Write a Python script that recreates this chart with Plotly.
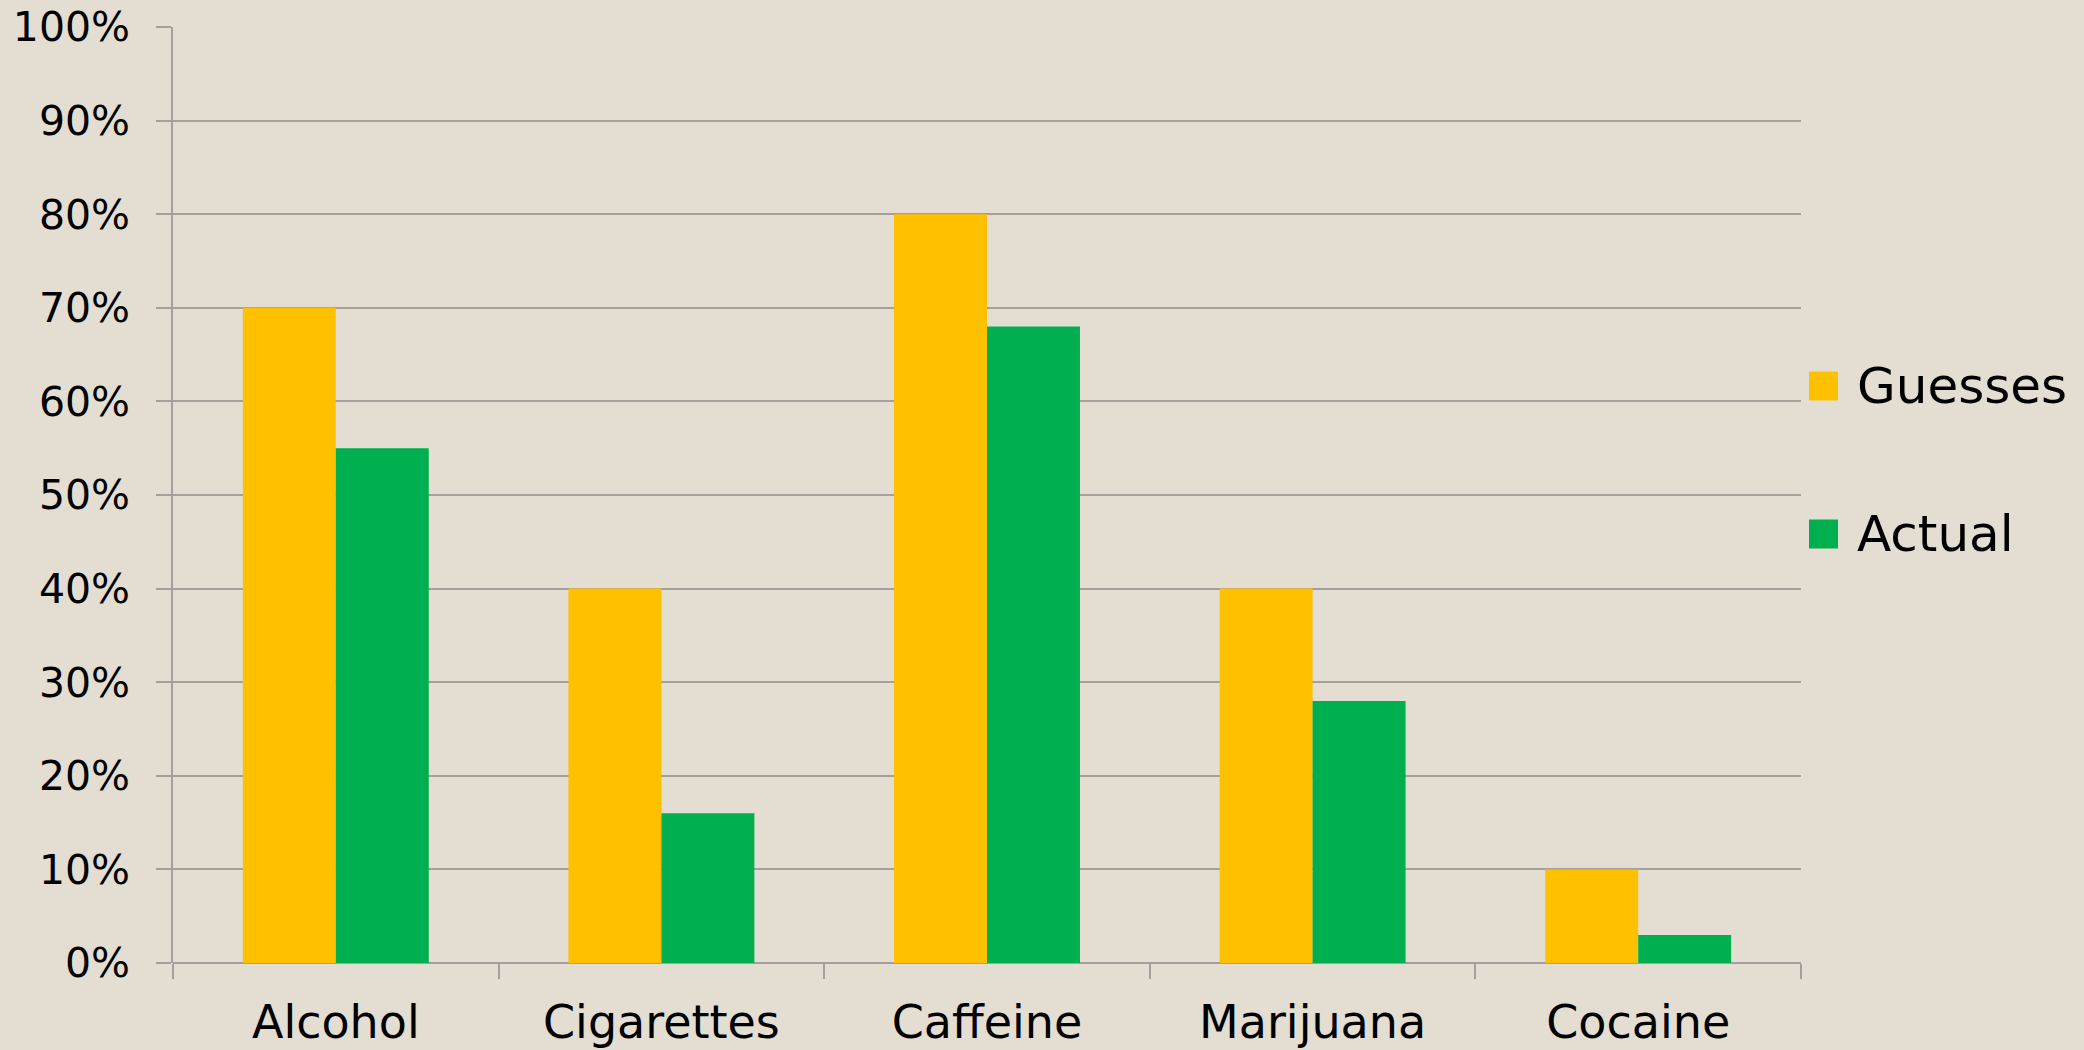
import plotly.graph_objects as go

categories = ["Alcohol", "Cigarettes", "Caffeine", "Marijuana", "Cocaine"]
guesses = [0.70, 0.40, 0.80, 0.40, 0.10]
actual = [0.55, 0.16, 0.68, 0.28, 0.03]
series_names = ["Guesses", "Actual"]
series_colors = ["#FFC000", "#00B050"]

BG = "#E3DDD2"
GRID = "#A3A09B"
FONT = "DejaVu Sans"

W, H = 2084, 1050
ML, MR, MT, MB = 173, 283, 27, 87
PW, PH = W - ML - MR, H - MT - MB

fig = go.Figure()
for name, vals, col in zip(series_names, [guesses, actual], series_colors):
    fig.add_trace(go.Bar(x=categories, y=vals, name=name, marker_color=col,
                         marker_line_width=0, showlegend=False))

# legend drawn as square swatches + text (pixel positions -> paper coords)
legend_centers_px = [386, 534]
sq = 29
sq_left = 1809
text_left = 1855
for name, col, cy in zip(series_names, series_colors, legend_centers_px):
    fig.add_shape(type="rect", xref="paper", yref="paper",
                  x0=(sq_left - ML) / PW, x1=(sq_left + sq - ML) / PW,
                  y0=(H - MB - cy - sq / 2) / PH, y1=(H - MB - cy + sq / 2) / PH,
                  fillcolor=col, line_width=0)
    fig.add_annotation(xref="paper", yref="paper", x=(text_left - ML) / PW,
                       y=(H - MB - cy) / PH, xanchor="left", yanchor="middle",
                       text=name, showarrow=False,
                       font=dict(size=50, family=FONT, color="#000000"))

fig.update_layout(
    width=W, height=H,
    paper_bgcolor=BG, plot_bgcolor=BG,
    margin=dict(l=ML, r=MR, t=MT, b=MB, autoexpand=False),
    barmode="group", bargap=0.429, bargroupgap=0,
    showlegend=False,
    font=dict(family=FONT, color="#000000"),
    xaxis=dict(showgrid=False, showline=False, ticks="outside", tickson="boundaries",
               ticklen=15, tickcolor=GRID, tickwidth=1.5, automargin=False,
               tickfont=dict(size=46, family=FONT), ticklabelstandoff=28,
               fixedrange=True),
    yaxis=dict(range=[0, 1], dtick=0.1, tickformat=".0%", showgrid=True,
               gridcolor=GRID, gridwidth=1.5, showline=True, linecolor=GRID,
               linewidth=1.5, ticks="outside", ticklen=15, tickcolor=GRID,
               tickwidth=1.5, tickfont=dict(size=41, family=FONT),
               zeroline=True, zerolinecolor=GRID, zerolinewidth=1.5,
               ticklabelstandoff=18, automargin=False, fixedrange=True),
)

fig.write_html("out.html", config={"displayModeBar": False},
               post_script="document.body.style.margin='0';document.body.style.overflow='hidden';")
